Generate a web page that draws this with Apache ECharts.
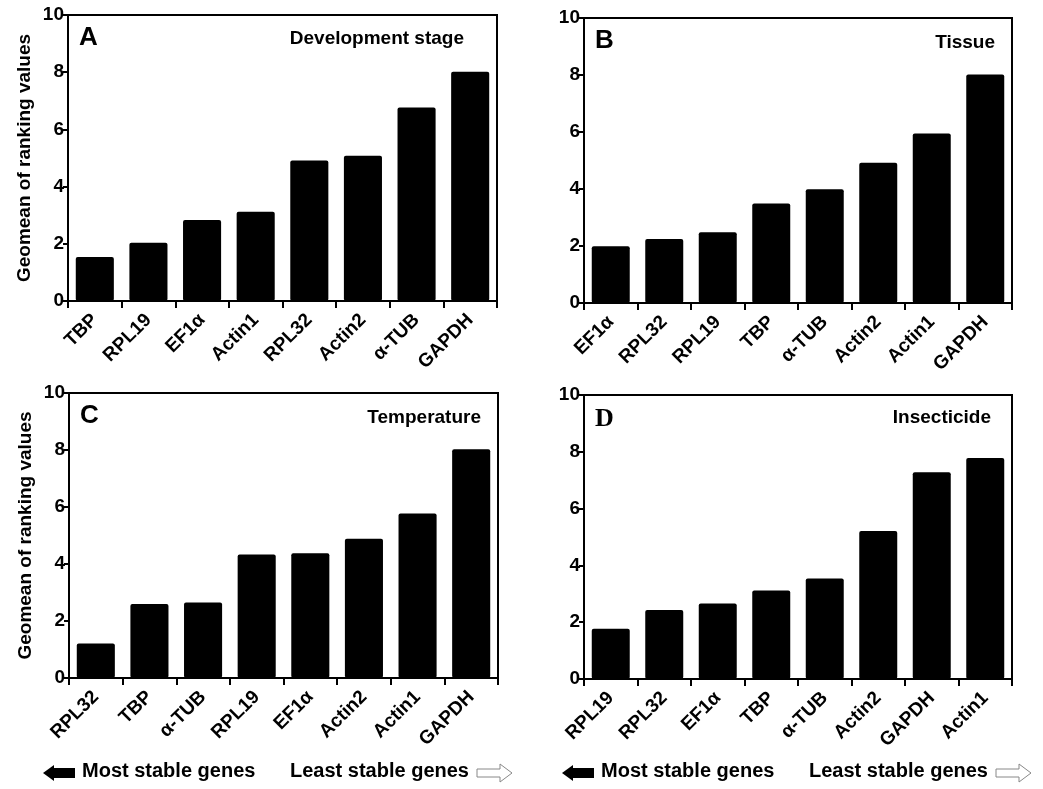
<!DOCTYPE html>
<html>
<head>
<meta charset="utf-8">
<script src="https://cdn.jsdelivr.net/npm/echarts@6/dist/echarts.min.js"></script>
<style>
  html, body { margin: 0; padding: 0; background: #fff; }
  #main { width: 1043px; height: 789px; }
</style>
</head>
<body>
<div id="main"></div>
<script>
// gene order and geomean values per panel
var genesA = ['TBP', 'RPL19', 'EF1α', 'Actin1', 'RPL32', 'Actin2', 'α-TUB', 'GAPDH'];
var valuesA = [1.54, 2.04, 2.83, 3.12, 4.91, 5.08, 6.77, 8.02];

var genesB = ['EF1α', 'RPL32', 'RPL19', 'TBP', 'α-TUB', 'Actin2', 'Actin1', 'GAPDH'];
var valuesB = [1.99, 2.25, 2.48, 3.49, 3.99, 4.92, 5.95, 8.02];

var genesC = ['RPL32', 'TBP', 'α-TUB', 'RPL19', 'EF1α', 'Actin2', 'Actin1', 'GAPDH'];
var valuesC = [1.21, 2.60, 2.65, 4.33, 4.38, 4.89, 5.77, 8.03];

var genesD = ['RPL19', 'RPL32', 'EF1α', 'TBP', 'α-TUB', 'Actin2', 'GAPDH', 'Actin1'];
var valuesD = [1.77, 2.43, 2.66, 3.12, 3.54, 5.21, 7.28, 7.78];

var panelTitles = ['Development stage', 'Tissue', 'Temperature', 'Insecticide'];
var panelLetters = ['A', 'B', 'C', 'D'];
var yTitle = 'Geomean of ranking values';

var font = 'Liberation Sans, Arial, sans-serif';

var chart = echarts.init(document.getElementById('main'));

var grids = [
    { left: 68, top: 15, width: 429, height: 286 },
    { left: 584, top: 18, width: 428, height: 285 },
    { left: 69, top: 393, width: 429, height: 285 },
    { left: 584, top: 395, width: 428, height: 284 }
];
grids.forEach(function (g) {
    g.show = true;
    g.borderColor = '#000';
    g.borderWidth = 2;
    g.backgroundColor = 'transparent';
});

var cats = [genesA, genesB, genesC, genesD];
var vals = [valuesA, valuesB, valuesC, valuesD];

var xAxes = cats.map(function (c, i) {
    return {
        type: 'category',
        gridIndex: i,
        data: c,
        axisLine: { lineStyle: { color: '#000', width: 2 } },
        axisTick: { show: true, length: 7, lineStyle: { color: '#000', width: 2 } },
        axisLabel: {
            interval: 0,
            rotate: 45,
            margin: 16,
            color: '#000',
            fontFamily: font,
            fontWeight: 'bold',
            fontSize: 19
        },
        splitLine: { show: false }
    };
});

var yAxes = cats.map(function (c, i) {
    return {
        type: 'value',
        gridIndex: i,
        min: 0,
        max: 10,
        interval: 2,
        name: (i === 0 || i === 2) ? yTitle : '',
        nameLocation: 'middle',
        nameGap: 34,
        nameTextStyle: {
            color: '#000',
            fontFamily: font,
            fontWeight: 'bold',
            fontSize: 19
        },
        axisLine: { show: true, lineStyle: { color: '#000', width: 2 } },
        axisTick: { show: true, length: 5, lineStyle: { color: '#000', width: 2 } },
        axisLabel: {
            margin: 4,
            color: '#000',
            fontFamily: font,
            fontWeight: 'bold',
            fontSize: 19
        },
        splitLine: { show: false }
    };
});

var series = vals.map(function (v, i) {
    return {
        type: 'bar',
        xAxisIndex: i,
        yAxisIndex: i,
        data: v,
        barWidth: '71%',
        itemStyle: { color: '#000', borderRadius: 2 },
        silent: true
    };
});

// panel letters and condition labels
var texts = [
    { x: 79, y: 25, s: 'A', size: 26, align: 'left', fam: font },
    { x: 464, y: 29, s: panelTitles[0], size: 19, align: 'right', fam: font },
    { x: 595, y: 28, s: 'B', size: 26, align: 'left', fam: font },
    { x: 995, y: 33, s: panelTitles[1], size: 19, align: 'right', fam: font },
    { x: 80, y: 403, s: 'C', size: 26, align: 'left', fam: font },
    { x: 481, y: 408, s: panelTitles[2], size: 19, align: 'right', fam: font },
    { x: 595, y: 406, s: 'D', size: 26, align: 'left', fam: 'Liberation Serif, Times New Roman, serif' },
    { x: 991, y: 408, s: panelTitles[3], size: 19, align: 'right', fam: font }
];

var graphics = texts.map(function (t) {
    return {
        type: 'text',
        left: t.align === 'left' ? t.x : null,
        right: t.align === 'right' ? 1043 - t.x : null,
        top: t.y,
        style: {
            text: t.s,
            fill: '#000',
            font: 'bold ' + t.size + 'px ' + t.fam
        }
    };
});

// bottom stability arrows
function arrowRow(x0) {
    var y = 773;
    return [
        {
            type: 'polygon',
            shape: { points: [[x0, y], [x0 + 11, y - 8], [x0 + 11, y - 5], [x0 + 32, y - 5], [x0 + 32, y + 5], [x0 + 11, y + 5], [x0 + 11, y + 8]] },
            style: { fill: '#000' }
        },
        {
            type: 'text', left: x0 + 39, top: y - 12,
            style: { text: 'Most stable genes', fill: '#000', font: 'bold 20px ' + font }
        },
        {
            type: 'text', left: x0 + 247, top: y - 12,
            style: { text: 'Least stable genes', fill: '#000', font: 'bold 20px ' + font }
        },
        {
            type: 'polygon',
            shape: { points: [[x0 + 434, y - 4], [x0 + 457, y - 4], [x0 + 457, y - 9], [x0 + 469, y], [x0 + 457, y + 9], [x0 + 457, y + 4], [x0 + 434, y + 4]] },
            style: { fill: '#fff', stroke: '#888', lineWidth: 1 }
        }
    ];
}
graphics = graphics.concat(arrowRow(43), arrowRow(562));

chart.setOption({
    animation: false,
    backgroundColor: '#fff',
    grid: grids,
    xAxis: xAxes,
    yAxis: yAxes,
    series: series,
    graphic: graphics
});
</script>
</body>
</html>
